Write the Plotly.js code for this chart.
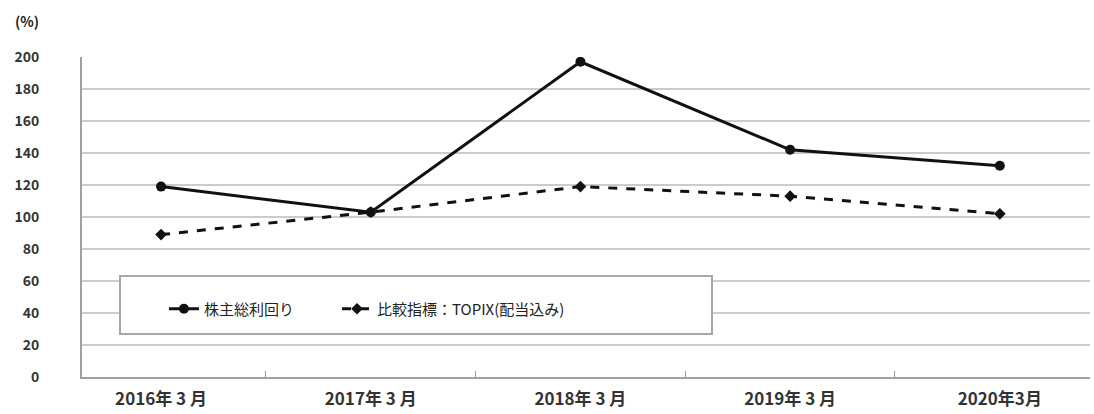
<!DOCTYPE html>
<html><head><meta charset="utf-8">
<script src="https://cdn.plot.ly/plotly-3.0.1.min.js"></script>
<style>body{margin:0;background:#fff}#c{width:1094px;height:414px}</style>
</head><body><div id="c"></div>
<script>
var categories = ["2016年 3 月","2017年 3 月","2018年 3 月","2019年 3 月","2020年3月"];
var tsrName = "株主総利回り";
var tsrValues = [119, 103, 197, 142, 132];
var topixName = "比較指標：TOPIX(配当込み)";
var topixValues = [89, 103, 119, 113, 102];
var yTicks = [0,20,40,60,80,100,120,140,160,180,200];

var font = "'Noto Sans CJK JP', 'Noto Sans', sans-serif";
var traces = [
 {x: categories, y: tsrValues, name: tsrName, type: "scatter", mode: "lines+markers", legend: "legend",
  line: {color: "#111", width: 3}, marker: {symbol: "circle", size: 10, color: "#111"}},
 {x: categories, y: topixValues, name: topixName, type: "scatter", mode: "lines+markers", legend: "legend2",
  line: {color: "#111", width: 3, dash: "dash"}, marker: {symbol: "diamond", size: 9, color: "#111"}}
];
var legFont = {family: font, size: 15, color: "#222"};
var layout = {
 width: 1094, height: 414,
 margin: {l: 82, r: 4, t: 57, b: 37},
 paper_bgcolor: "#fff", plot_bgcolor: "#fff",
 font: {family: font, size: 13, color: "#222"},
 showlegend: true,
 legend: {x: 0.0813, y: 0.2125, xanchor: "left", yanchor: "middle",
   bgcolor: "rgba(0,0,0,0)", font: legFont, itemwidth: 30},
 legend2: {x: 0.253, y: 0.2125, xanchor: "left", yanchor: "middle",
   bgcolor: "rgba(0,0,0,0)", font: legFont, itemwidth: 30},
 xaxis: {type: "category", range: [-0.377, 4.43], showgrid: false,
   showline: true, linecolor: "#a0a0a0", linewidth: 2,
   ticks: "inside", tickson: "boundaries", ticklen: 6, tickcolor: "#a0a0a0", tickwidth: 1,
   tickfont: {family: font, size: 17, color: "#333", weight: "bold"}, ticklabelstandoff: 6},
 yaxis: {range: [0, 200], tickvals: yTicks, showgrid: true, gridcolor: "#cbcbcb", gridwidth: 2,
   showline: true, linecolor: "#a0a0a0", linewidth: 2, zeroline: false,
   ticks: "", tickfont: {family: font, size: 14, color: "#333", weight: "bold"}, ticklabelstandoff: 38},
 shapes: [{type: "rect", xref: "paper", yref: "paper", x0: 0.0377, x1: 0.625, y0: 0.134, y1: 0.3156,
   line: {color: "#a8a8a8", width: 2}, fillcolor: "#fff", layer: "above"}],
 annotations: [{text: "<b>(%)</b>", xref: "paper", yref: "paper", x: -0.0546, y: 1.1125,
   xanchor: "center", yanchor: "middle", showarrow: false, font: {family: font, size: 14, color: "#222"}}]
};
Plotly.newPlot("c", traces, layout, {displayModeBar: false, staticPlot: true});
</script></body></html>
